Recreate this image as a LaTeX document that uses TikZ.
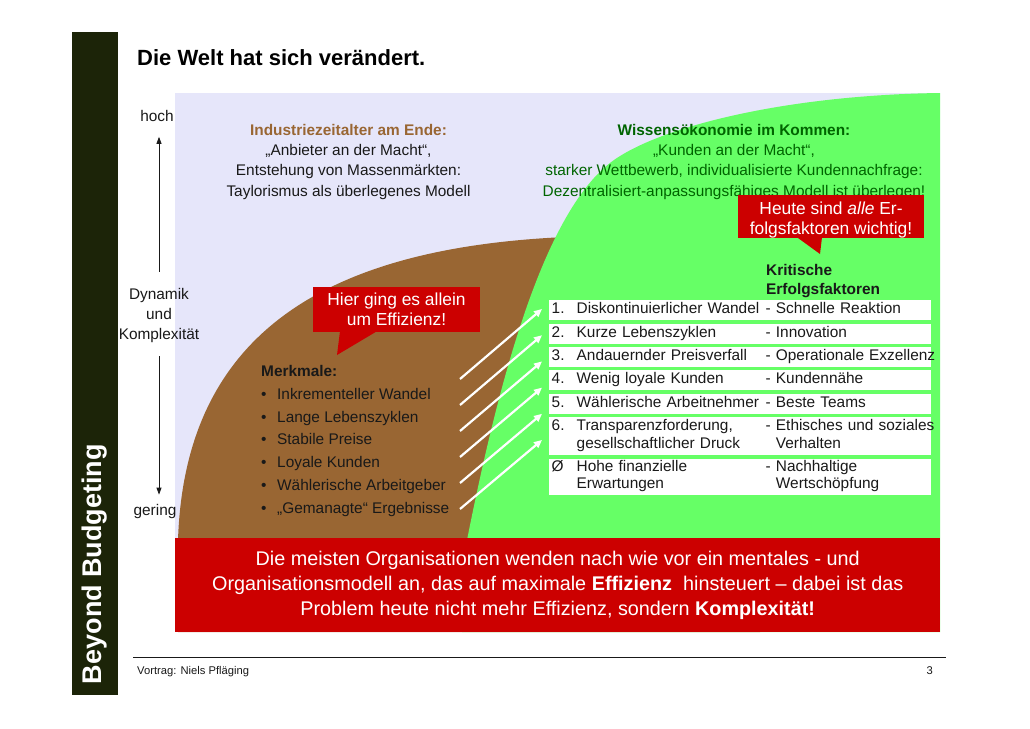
\documentclass[tikz,border=0pt]{standalone}
\usepackage{fontspec}
\setmainfont{Liberation Sans}
\usetikzlibrary{positioning,arrows.meta}

\definecolor{sidebar}{RGB}{28,36,8}
\definecolor{lavbg}{RGB}{230,230,250}
\definecolor{earth}{RGB}{153,102,51}
\definecolor{lime}{RGB}{102,255,102}
\definecolor{alarm}{RGB}{204,0,0}
\definecolor{forest}{RGB}{0,100,0}
\definecolor{ink}{RGB}{25,25,25}

\newcommand\bodysize{\fontsize{15.4}{17.5}\selectfont}
\newcommand\critrow[3]{\hspace*{2.5pt}\strut\makebox[25pt][l]{#1}\makebox[189pt][l]{#2}\mbox{#3}}

\begin{document}
\begin{tikzpicture}[x=1pt, y=-1pt,
    lbl/.style={text=ink, font=\bodysize, inner sep=0pt},
    crit/.style={fill=white, text=ink, font=\bodysize, text width=382pt, align=left,
        inner xsep=0pt, inner ysep=0pt, minimum height=20pt, anchor=north west},
    bubble/.style={fill=alarm, text=white, font=\fontsize{17.4}{19.5}\selectfont,
        align=center, inner sep=0pt},
    wiarrow/.style={white, line width=2.2pt, -{Triangle[length=8pt,width=7pt]}},
    axarrow/.style={ink, line width=0.8pt, -{Triangle[length=7pt,width=5pt]}}]
    \useasboundingbox (0,0) rectangle (1030,728);
    \fill[white] (0,0) rectangle (1030,728);

    % side bar and title
    \fill[sidebar] (72,32) rectangle (118,695);
    \node[rotate=90, text=white, font=\fontsize{27}{30}\selectfont\bfseries] (brand) at (95,564) {Beyond Budgeting};
    \node[anchor=base west, inner sep=0pt, font=\fontsize{22}{26}\selectfont\bfseries] (title) at (137,65) {Die Welt hat sich verändert.};

    % background areas
    \fill[lavbg] (175,93) rectangle (940,632);
    \fill[earth] (178,632) -- (178,540) .. controls (185,330) and (330,240) .. (600,236)
        -- (760,236) -- (760,632) -- cycle;
    \fill[lime] (462,632) -- (467,540) .. controls (495,400) and (540,212) .. (614,160)
        .. controls (664,125) and (790,95) .. (940,93) -- (940,632) -- cycle;

    % headings of the two eras
    \node[lbl, anchor=north, align=center, font=\fontsize{15.4}{20.3}\selectfont] (ind) at (348.5,124)
        {\textcolor{earth}{\bfseries Industriezeitalter am Ende:}\\„Anbieter an der Macht“,\\Entstehung von Massenmärkten:\\Taylorismus als überlegenes Modell};
    \node[lbl, anchor=north, align=center, text=forest, font=\fontsize{15.4}{20.3}\selectfont] (wis) at (734,124)
        {\textbf{Wissensökonomie im Kommen:}\\„Kunden an der Macht“,\\starker Wettbewerb, individualisierte Kundennachfrage:\\Dezentralisiert-anpassungsfähiges Modell ist überlegen!};

    % callouts
    \node[bubble, minimum width=167pt, minimum height=45pt] (effi) at (396.5,309.5) {Hier ging es allein\\um Effizienz!};
    \coordinate (effitip) at (337,355);
    \fill[alarm] ([xshift=-56.5pt,yshift=1pt]effi.south) -- (effitip) -- ([xshift=-19.5pt,yshift=1pt]effi.south) -- cycle;
    \node[bubble, minimum width=186pt, minimum height=42pt] (alle) at (831,216.5) {\rule{0pt}{20pt}Heute sind \textit{alle} Er-\\folgsfaktoren wichtig!};
    \coordinate (alletip) at (820,254);
    \fill[alarm] ([xshift=-34pt,yshift=1pt]alle.south) -- (alletip) -- ([xshift=-9pt,yshift=1pt]alle.south) -- cycle;

    % old world
    \node[lbl, anchor=north west, align=left, font=\fontsize{15.4}{22.7}\selectfont] (merk) at (261,365.5)
        {\textbf{Merkmale:}\\\makebox[16pt][l]{•}Inkrementeller Wandel\\\makebox[16pt][l]{•}Lange Lebenszyklen\\\makebox[16pt][l]{•}Stabile Preise\\\makebox[16pt][l]{•}Loyale Kunden\\\makebox[16pt][l]{•}Wählerische Arbeitgeber\\\makebox[16pt][l]{•}„Gemanagte“ Ergebnisse};

    % new world
    \node[lbl, anchor=north west, align=left, font=\fontsize{15.4}{19}\selectfont\bfseries] (krit) at (766,264) {Kritische\\Erfolgsfaktoren};
    \node[crit] (r1) at (549,300) {\critrow{1.}{Diskontinuierlicher Wandel}{- Schnelle Reaktion}};
    \node[crit, below=3pt of r1] (r2) {\critrow{2.}{Kurze Lebenszyklen}{- Innovation}};
    \node[crit, below=3pt of r2] (r3) {\critrow{3.}{Andauernder Preisverfall}{- Operationale Exzellenz}};
    \node[crit, below=3pt of r3] (r4) {\critrow{4.}{Wenig loyale Kunden}{- Kundennähe}};
    \node[crit, below=3pt of r4] (r5) {\critrow{5.}{Wählerische Arbeitnehmer}{- Beste Teams}};
    \node[crit, below=3pt of r5, minimum height=38pt] (r6) {\critrow{6.}{Transparenzforderung,}{- Ethisches und soziales}\\\critrow{}{gesellschaftlicher Druck}{\phantom{- }Verhalten}};
    \node[crit, below=3pt of r6, minimum height=36pt] (r7) {\critrow{Ø}{Hohe finanzielle}{- Nachhaltige}\\\critrow{}{Erwartungen}{\phantom{- }Wertschöpfung}};

    \foreach \i in {0,...,5}{
        \coordinate (s\i) at (460,{379+26*\i});
        \coordinate (e\i) at (542,{309+26.2*\i});
        \draw[wiarrow] (s\i) -- (e\i);
    }

    % axis
    \node[lbl] (hoch) at (157,116) {hoch};
    \node[lbl, align=center, font=\fontsize{15.4}{20}\selectfont] (dyn) at (159,316) {Dynamik\\und\\Komplexität};
    \node[lbl] (gering) at (155,512) {gering};
    \draw[axarrow, shorten <=17pt, shorten >=15pt] (dyn.north) -- (dyn.north |- hoch.south);
    \draw[axarrow, shorten <=13pt, shorten >=10pt] (dyn.south) -- (dyn.south |- gering.north);

    % message
    \node[fill=alarm, text=white, anchor=north west, minimum width=765pt, minimum height=94pt,
        align=center, inner sep=0pt, font=\fontsize{19.8}{25}\selectfont] (msg) at (175,538)
        {Die meisten Organisationen wenden nach wie vor ein mentales - und\\Organisationsmodell an, das auf maximale \textbf{Effizienz}\ \ hinsteuert – dabei ist das\\Problem heute nicht mehr Effizienz, sondern \textbf{Komplexität!}};

    % footer
    \draw[ink, line width=0.8pt] (133,657) -- (946,657);
    \node[lbl, anchor=base west, font=\fontsize{11.2}{13}\selectfont] (talk) at (137,674) {Vortrag: Niels Pfläging};
    \node[lbl, anchor=base east, font=\fontsize{11.2}{13}\selectfont] (page) at (933,674) {3};
\end{tikzpicture}
\end{document}
